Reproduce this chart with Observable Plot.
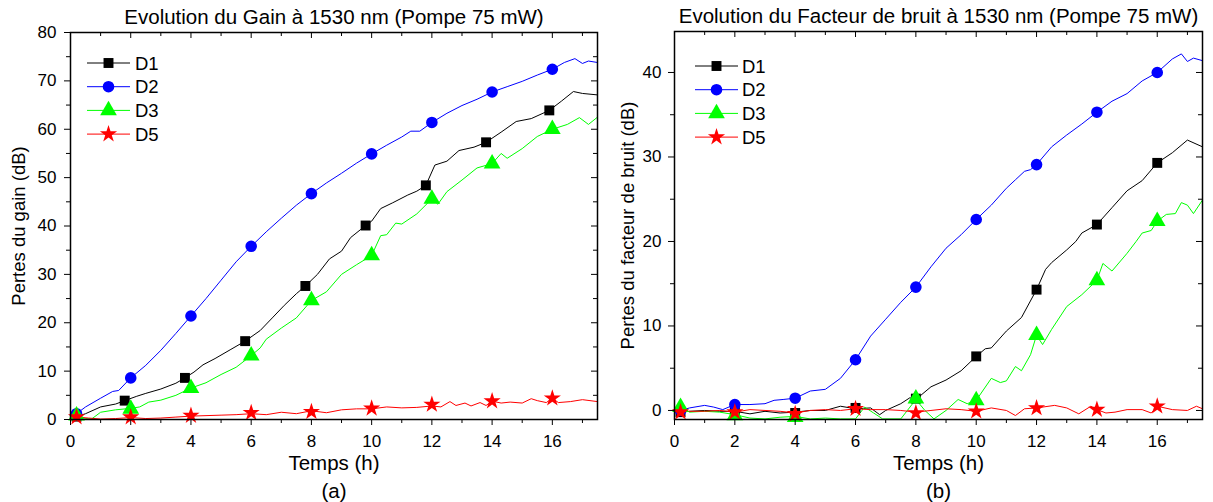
<!DOCTYPE html>
<html>
<head>
<meta charset="utf-8">
<script src="https://cdn.jsdelivr.net/npm/d3@7"></script>
<script src="https://cdn.jsdelivr.net/npm/@observablehq/plot@0.6"></script>
<style>
  html, body { margin: 0; padding: 0; background: #fff; }
  #wrap { position: relative; width: 1213px; height: 502px; overflow: hidden; font-family: 'Liberation Sans', Arial, sans-serif; }
  .panel { position: absolute; top: 0; }
  .legend { position: absolute; top: 0; left: 0; pointer-events: none; }
</style>
</head>
<body>
<div id="wrap">
  <div id="a" class="panel" style="left:0"></div>
  <div id="b" class="panel" style="left:606px"></div>
</div>
<script>
// ---------- ticks ----------
const xMajor = [0, 2, 4, 6, 8, 10, 12, 14, 16];
const xMinor = [1, 3, 5, 7, 9, 11, 13, 15, 17];
const gainYMajor = [0, 10, 20, 30, 40, 50, 60, 70, 80];
const gainYMinor = [5, 15, 25, 35, 45, 55, 65, 75];
const nfYMajor = [0, 10, 20, 30, 40];
const nfYMinor = [5, 15, 25, 35];

// ---------- series names / colors ----------
const seriesNames = ["D1", "D2", "D3", "D5"];
const seriesColors = ["#000000", "#0000ff", "#00ff00", "#ff0000"];
const seriesSymbols = ["square", "circle", "triangle", "star"];

// ---------- (a) Gain losses ----------
const gainD1T = [0.2,0.5,1.0,1.5,1.8,2.2,2.5,3.0,3.5,3.8,4.1,4.4,4.8,5.3,5.8,6.3,6.7,7.1,7.5,7.8,8.2,8.6,9.0,9.3,9.8,10.0,10.3,10.7,11.2,11.5,11.8,12.1,12.5,12.9,13.4,13.8,14.3,14.8,15.3,15.9,16.3,16.7,17.0,17.5];
const gainD1V = [0.6,1.2,2.6,3.2,3.9,4.8,5.4,6.3,7.5,8.6,9.8,11.3,12.6,14.4,16.2,18.4,21.0,23.6,26.0,27.6,30.0,33.2,34.8,37.6,40.1,41.0,43.6,44.8,46.4,47.2,48.4,52.6,53.4,55.6,56.3,57.3,59.4,61.6,62.2,63.9,65.8,67.8,67.4,67.1];
const gainD1MarkT = [0.2,1.8,3.8,5.8,7.8,9.8,11.8,13.8,15.9];
const gainD1MarkV = [0.6,3.9,8.6,16.2,27.6,40.1,48.4,57.3,63.9];

const gainD2T = [0.2,0.5,1.0,1.4,1.6,2.0,2.5,3.0,3.5,4.0,4.5,5.0,5.5,6.0,6.5,7.0,7.5,8.0,8.5,9.0,9.5,10.0,10.5,11.0,11.3,11.6,12.0,12.5,13.0,13.5,14.0,14.5,15.0,15.5,16.0,16.4,16.75,17.0,17.2,17.5];
const gainD2V = [1.2,2.6,4.4,5.8,6.0,8.6,11.2,14.3,17.8,21.4,25.0,28.8,32.6,35.8,38.8,41.6,44.3,46.7,48.9,50.9,53.0,54.9,56.7,58.4,59.6,59.6,61.4,63.3,64.9,66.2,67.7,68.8,69.9,71.2,72.4,73.8,74.6,73.6,74.1,73.8];
const gainD2MarkT = [0.2,2,4,6,8,10,12,14,16];
const gainD2MarkV = [1.2,8.6,21.4,35.8,46.7,54.9,61.4,67.7,72.4];

const gainD3T = [0.2,0.5,0.7,1.0,1.5,2.0,2.3,2.6,3.0,3.5,4.0,4.5,5.0,5.5,6.0,6.3,6.5,7.0,7.5,8.0,8.5,9.0,9.5,10.0,10.3,10.5,10.8,11.0,11.5,12.0,12.2,12.5,13.0,13.5,14.0,14.3,14.5,15.0,15.5,16.0,16.5,16.9,17.2,17.5];
const gainD3V = [0.8,0.2,0.1,1.5,2.0,2.3,2.6,3.6,4.0,5.0,6.5,7.6,9.3,10.8,13.2,14.8,16.6,18.9,21.0,24.6,26.4,30.0,32.0,33.9,38.0,38.2,40.6,40.4,42.5,45.6,44.5,47.1,49.5,52.0,52.9,55.0,54.0,56.0,58.5,60.0,61.0,62.4,61.0,62.5];
const gainD3MarkT = [0.2,2,4,6,8,10,12,14,16];
const gainD3MarkV = [0.8,2.2,6.5,13.2,24.6,33.9,45.6,52.9,60.0];

const gainD5T = [0.2,0.6,1.0,1.5,2.0,2.5,3.0,3.5,4.0,4.5,5.0,5.5,6.0,6.5,7.0,7.5,8.0,8.5,9.0,9.5,10.0,10.5,11.0,11.5,12.0,12.3,12.6,12.8,13.1,13.3,13.6,13.8,14.0,14.3,14.6,15.0,15.3,15.5,15.8,16.0,16.2,16.6,17.0,17.5];
const gainD5V = [0.5,0.3,0.1,0.2,0.4,0.2,0.3,0.5,0.7,0.8,0.9,1.0,1.2,1.0,1.5,1.2,1.8,1.4,2.0,2.2,2.2,2.6,2.4,2.5,2.8,2.6,3.7,2.9,3.4,2.8,3.5,2.9,3.8,3.4,3.6,3.4,4.3,3.9,3.5,4.4,3.5,3.7,4.1,3.7];
const gainD5MarkT = [0.2,2,4,6,8,10,12,14,16];
const gainD5MarkV = [0.5,0.5,0.8,1.4,1.6,2.3,3.1,3.8,4.4];

// ---------- (b) Noise figure losses ----------
const nfD1T = [0.2,0.5,1.0,1.5,2.0,2.5,3.0,3.5,4.0,4.5,5.0,5.5,6.0,6.5,6.8,7.0,7.5,7.8,8.0,8.5,9.0,9.5,10.0,10.3,10.5,11.0,11.5,12.0,12.3,12.5,13.0,13.3,13.5,14.0,14.5,15.0,15.5,16.0,16.5,17.0,17.5];
const nfD1V = [-0.2,-0.1,0.0,-0.1,-0.1,-0.4,-0.1,-0.3,-0.2,0.0,0.0,0.5,0.2,0.3,-0.5,0.0,0.8,1.5,1.3,2.8,3.6,4.7,6.4,7.3,7.4,9.4,11.0,14.3,16.7,17.5,19.0,20.0,21.0,22.0,24.0,26.0,27.2,29.3,30.5,32.0,31.2];
const nfD1MarkT = [0.2,2,4,6,8,10,12,14,16];
const nfD1MarkV = [-0.2,-0.1,-0.3,0.3,1.4,6.4,14.3,22.0,29.3];

const nfD2T = [0.2,0.5,1.0,1.3,1.6,2.0,2.5,3.0,3.3,3.6,4.0,4.5,5.0,5.5,6.0,6.5,7.0,7.5,8.0,8.5,9.0,9.5,10.0,10.5,11.0,11.3,11.6,11.8,12.0,12.5,13.0,13.5,14.0,14.5,15.0,15.5,16.0,16.5,16.8,17.0,17.2,17.5];
const nfD2V = [0.0,0.3,0.6,0.4,0.1,0.7,0.7,0.8,1.2,1.3,1.45,2.3,2.5,3.8,6.0,8.8,10.8,12.8,14.6,17.0,19.2,20.8,22.6,24.3,26.3,27.3,28.3,28.5,29.1,31.2,32.6,33.9,35.3,36.6,37.5,39.0,40.0,41.6,42.2,41.3,41.7,41.4];
const nfD2MarkT = [0.2,2,4,6,8,10,12,14,16];
const nfD2MarkV = [0.0,0.7,1.45,6.0,14.6,22.6,29.1,35.3,40.0];

const nfD3T = [0.2,0.5,1.0,1.5,2.0,2.5,3.0,3.5,4.0,4.5,5.0,5.5,6.0,6.3,6.6,6.9,7.5,8.0,8.3,8.6,9.0,9.4,9.7,10.0,10.5,10.8,11.0,11.3,11.5,11.8,12.0,12.2,12.5,13.0,13.5,14.0,14.2,14.5,15.0,15.3,15.5,15.8,16.0,16.3,16.6,16.8,17.0,17.2,17.5];
const nfD3V = [0.4,-0.2,-0.1,-0.2,-0.5,-0.9,-1.0,-0.8,-0.7,-1.0,-0.9,-1.0,-1.0,0.4,-0.3,-1.0,-1.0,1.3,0.0,-1.0,0.0,1.3,0.8,1.2,3.8,3.3,3.5,5.2,4.7,6.6,8.9,7.8,9.6,12.3,13.7,15.4,17.4,16.5,18.6,20.0,21.0,21.3,22.4,23.2,23.3,24.6,24.3,23.3,24.9];
const nfD3MarkT = [0.2,2,4,8,10,12,14,16];
const nfD3MarkV = [0.4,-0.6,-0.8,1.4,1.2,8.9,15.4,22.4];

const nfD5T = [0.2,0.5,1.0,1.5,2.0,2.5,3.0,3.5,4.0,4.5,5.0,5.5,6.0,6.5,7.0,7.5,8.0,8.5,9.0,9.5,10.0,10.5,11.0,11.3,11.6,12.0,12.6,13.0,13.4,13.8,14.0,14.3,14.6,15.0,15.5,15.8,16.0,16.5,17.0,17.3,17.5];
const nfD5V = [-0.2,-0.1,-0.1,0.0,-0.2,0.1,0.0,-0.1,-0.3,0.0,0.1,0.0,0.2,0.1,0.1,0.0,-0.2,0.0,0.2,0.1,-0.1,0.3,0.0,-0.6,0.2,0.3,0.6,0.3,-0.4,0.5,0.1,-0.3,-0.2,0.1,0.1,-0.3,0.5,0.1,0.0,0.5,0.2];
const nfD5MarkT = [0.2,2,4,6,8,10,12,14,16];
const nfD5MarkV = [-0.2,-0.2,-0.4,0.2,-0.3,-0.1,0.3,0.1,0.5];

// ---------- build ----------
const FONT = "'Liberation Sans', Arial, sans-serif";
const zip = (t, v) => t.map((x, i) => ({x, y: v[i]}));
const symR = {square: 5.6, circle: 5.8, triangle: 6.2, star: 5.4};

function panel(cfg) {
  const H = 502;
  const fw = cfg.width - cfg.ml - cfg.mr;
  const fh = H - cfg.mt - cfg.mb;
  const marks = [];
  cfg.series.forEach((s, i) => {
    marks.push(Plot.line(zip(s.t, s.v), {x: "x", y: "y", stroke: seriesColors[i], strokeWidth: 1, clip: true}));
  });
  cfg.series.forEach((s, i) => {
    marks.push(Plot.dot(zip(s.mt, s.mv), {x: "x", y: "y", symbol: () => seriesSymbols[i], fill: seriesColors[i], stroke: "none",
      r: symR[seriesSymbols[i]]}));
  });
  // axes: outward ticks on left / bottom
  marks.push(Plot.axisX(xMajor, {tickSize: 6, tickPadding: 9, fontSize: 17, label: null}));
  marks.push(Plot.axisX(xMinor, {tickSize: 4, tickFormat: () => "", label: null}));
  marks.push(Plot.axisY(cfg.yMajor, {tickSize: 6, tickPadding: cfg.ypad, fontSize: 17, label: null}));
  marks.push(Plot.axisY(cfg.yMinor, {tickSize: 4, tickFormat: () => "", label: null}));
  // mirrored inward ticks on top / right
  marks.push(Plot.tickX(xMajor, {x: d => d, insetBottom: fh - 6, stroke: "black"}));
  marks.push(Plot.tickX(xMinor, {x: d => d, insetBottom: fh - 4, stroke: "black"}));
  marks.push(Plot.tickY(cfg.yMajor, {y: d => d, insetLeft: fw - 6, stroke: "black"}));
  marks.push(Plot.tickY(cfg.yMinor, {y: d => d, insetLeft: fw - 4, stroke: "black"}));
  marks.push(Plot.frame({stroke: "black", strokeWidth: 1.5}));
  // texts
  marks.push(Plot.text([cfg.title], {text: d => d, frameAnchor: "top", lineAnchor: "middle", textAnchor: "middle", dy: -15.5, fontSize: 20.5}));
  marks.push(Plot.text([cfg.xlabel], {text: d => d, frameAnchor: "bottom", lineAnchor: "middle", textAnchor: "middle", dy: 44, fontSize: 20.5}));
  marks.push(Plot.text([cfg.caption], {text: d => d, frameAnchor: "bottom", lineAnchor: "middle", textAnchor: "middle", dy: 71.5, fontSize: 20.5}));
  marks.push(Plot.text([cfg.ylabel], {text: d => d, frameAnchor: "left", lineAnchor: "middle", textAnchor: "middle", dx: cfg.ylabelDx, rotate: -90, fontSize: 18.5}));

  const svg = Plot.plot({
    width: cfg.width, height: H,
    marginLeft: cfg.ml, marginRight: cfg.mr, marginTop: cfg.mt, marginBottom: cfg.mb,
    x: {domain: [0, 17.5]},
    y: {domain: cfg.yDomain},
    style: {fontFamily: FONT, fontSize: "17px", color: "black", background: "white", overflow: "visible"},
    marks
  });
  const host = document.getElementById(cfg.id);
  host.appendChild(svg);

  // legend (inside the frame, top-left)
  const lg = d3.select(host).append("svg").attr("class", "legend")
    .attr("width", cfg.width).attr("height", H);
  seriesNames.forEach((name, i) => {
    const y = cfg.legend.y0 + i * cfg.legend.dy;
    const g = lg.append("g");
    g.append("line").attr("x1", cfg.legend.x1).attr("x2", cfg.legend.x2).attr("y1", y).attr("y2", y)
      .attr("stroke", seriesColors[i]).attr("stroke-width", 1);
    const r = symR[seriesSymbols[i]];
    const sym = {square: d3.symbolSquare, circle: d3.symbolCircle, triangle: d3.symbolTriangle, star: d3.symbolStar}[seriesSymbols[i]];
    g.append("path").attr("d", d3.symbol(sym, Math.PI * r * r)())
      .attr("transform", `translate(${(cfg.legend.x1 + cfg.legend.x2) / 2},${y})`)
      .attr("fill", seriesColors[i]);
    g.append("text").attr("x", cfg.legend.tx).attr("y", y).attr("dy", "0.36em")
      .attr("font-family", FONT).attr("font-size", 18.5).attr("fill", "black").text(name);
  });
}

panel({
  id: "a", width: 606, ml: 70, mr: 9, mt: 32, mb: 83, ypad: 8,
  yDomain: [0, 80], yMajor: gainYMajor, yMinor: gainYMinor,
  title: "Evolution du Gain à 1530 nm (Pompe 75 mW)",
  xlabel: "Temps (h)", caption: "(a)", ylabel: "Pertes du gain (dB)", ylabelDx: -51,
  legend: {x1: 87, x2: 130, tx: 135, y0: 63, dy: 23.7},
  series: [
    {t: gainD1T, v: gainD1V, mt: gainD1MarkT, mv: gainD1MarkV},
    {t: gainD2T, v: gainD2V, mt: gainD2MarkT, mv: gainD2MarkV},
    {t: gainD3T, v: gainD3V, mt: gainD3MarkT, mv: gainD3MarkV},
    {t: gainD5T, v: gainD5V, mt: gainD5MarkT, mv: gainD5MarkV}
  ]
});

panel({
  id: "b", width: 607, ml: 68, mr: 11, mt: 31, mb: 83, ypad: 7,
  yDomain: [-1.07, 44.85], yMajor: nfYMajor, yMinor: nfYMinor,
  title: "Evolution du Facteur de bruit à 1530 nm (Pompe 75 mW)",
  xlabel: "Temps (h)", caption: "(b)", ylabel: "Pertes du facteur de bruit (dB)", ylabelDx: -46,
  legend: {x1: 89, x2: 132, tx: 136, y0: 66, dy: 23.7},
  series: [
    {t: nfD1T, v: nfD1V, mt: nfD1MarkT, mv: nfD1MarkV},
    {t: nfD2T, v: nfD2V, mt: nfD2MarkT, mv: nfD2MarkV},
    {t: nfD3T, v: nfD3V, mt: nfD3MarkT, mv: nfD3MarkV},
    {t: nfD5T, v: nfD5V, mt: nfD5MarkT, mv: nfD5MarkV}
  ]
});
</script>
</body>
</html>
